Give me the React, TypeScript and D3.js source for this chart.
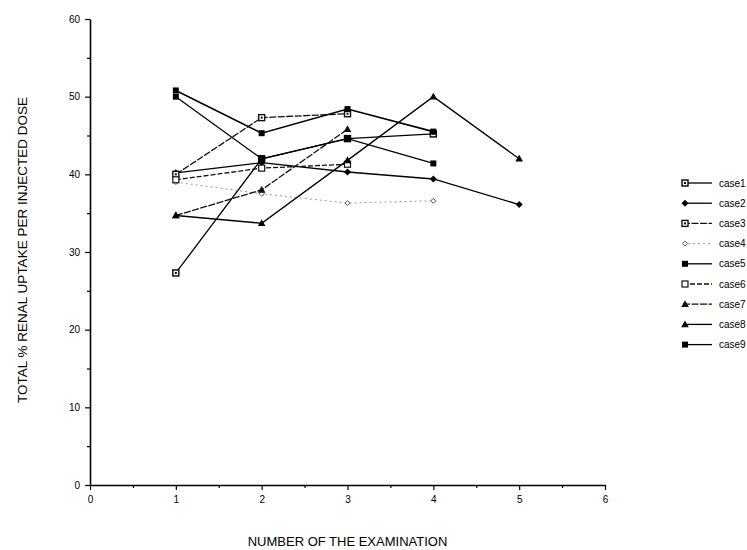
import React, { useEffect, useRef } from 'react';
import * as d3 from 'd3';

// examination number 1..5, value = % renal uptake per injected dose
const EXAMS = [1, 2, 3, 4, 5];
const CASES = ['case1', 'case2', 'case3', 'case4', 'case5', 'case6', 'case7', 'case8', 'case9'];
const case1 = [27.3, 42.0, 44.6, 45.2];
const case2 = [40.2, 41.5, 40.3, 39.4, 36.1];
const case3 = [40.0, 47.3, 47.8];
const case4 = [39.0, 37.5, 36.3, 36.6];
const case5 = [50.0, 42.0, 44.6, 41.4];
const case6 = [39.3, 40.8, 41.3];
const case7 = [34.7, 38.0, 45.8];
const case8 = [34.7, 33.7, 41.8, 50.0, 42.0];
const case9 = [50.8, 45.3, 48.4, 45.5];
const SERIES = [case1, case2, case3, case4, case5, case6, case7, case8, case9];

const X_TICKS = [0, 1, 2, 3, 4, 5, 6];
const Y_TICKS = [0, 10, 20, 30, 40, 50, 60];

const W = 747;
const H = 550;
const FONT = 'Liberation Sans, Arial, Helvetica, sans-serif';

// marker kind, line dash, stroke colour
const STYLE = [
  { m: 'sqdot', dash: null, c: '#000' },
  { m: 'diamond', dash: null, c: '#000' },
  { m: 'sqdot', dash: '7,1.5', c: '#111' },
  { m: 'smalldiamond', dash: '2,3', c: '#999' },
  { m: 'square', dash: null, c: '#000' },
  { m: 'opensq', dash: '5,2', c: '#111' },
  { m: 'triangle', dash: '7,1.5', c: '#111' },
  { m: 'triangle', dash: null, c: '#000' },
  { m: 'square', dash: null, c: '#000' },
];

const Marker = ({ kind, cx, cy, color }) => {
  const s = 3;
  switch (kind) {
    case 'square':
      return <rect x={cx - s} y={cy - s} width={2 * s} height={2 * s} fill={color} />;
    case 'opensq':
      return <rect x={cx - s} y={cy - s} width={2 * s} height={2 * s} fill="#fff" stroke={color} strokeWidth={1.2} />;
    case 'sqdot':
      return (
        <g>
          <rect x={cx - s} y={cy - s} width={2 * s} height={2 * s} fill="#fff" stroke={color} strokeWidth={1.4} />
          <rect x={cx - 1} y={cy - 1} width={2} height={2} fill={color} />
        </g>
      );
    case 'diamond':
      return <path d={`M${cx},${cy - 3.5}L${cx + 3.5},${cy}L${cx},${cy + 3.5}L${cx - 3.5},${cy}Z`} fill={color} />;
    case 'smalldiamond':
      return <path d={`M${cx},${cy - 2.5}L${cx + 2.5},${cy}L${cx},${cy + 2.5}L${cx - 2.5},${cy}Z`} fill="#fff" stroke="#555" strokeWidth={1} />;
    case 'triangle':
      return <path d={`M${cx},${cy - 4}L${cx + 3.8},${cy + 2.8}L${cx - 3.8},${cy + 2.8}Z`} fill={color} />;
    default:
      return null;
  }
};

export default function App() {
  const xAxisRef = useRef(null);
  const yAxisRef = useRef(null);

  const x = d3.scaleLinear().domain([0, 6]).range([90, 605]);
  const y = d3.scaleLinear().domain([0, 60]).range([485, 19]);

  useEffect(() => {
    const gx = d3.select(xAxisRef.current);
    gx.selectAll('*').remove();
    gx.append('g')
      .call(d3.axisBottom(x).tickValues(X_TICKS.slice(0, -1).map(d => d + 0.5)).tickSize(3).tickSizeOuter(0).tickFormat(() => ''))
      .call(g => g.select('.domain').remove());
    gx.append('g')
      .call(d3.axisBottom(x).tickValues(X_TICKS).tickSize(5).tickSizeOuter(0).tickPadding(6).tickFormat(d3.format('d')))
      .call(g => g.select('.domain').attr('stroke-width', 1.6));

    const gy = d3.select(yAxisRef.current);
    gy.selectAll('*').remove();
    gy.append('g')
      .call(d3.axisLeft(y).tickValues(Y_TICKS.slice(0, -1).map(d => d + 5)).tickSize(3).tickSizeOuter(0).tickFormat(() => ''))
      .call(g => g.select('.domain').remove());
    gy.append('g')
      .call(d3.axisLeft(y).tickValues(Y_TICKS).tickSize(5).tickSizeOuter(0).tickPadding(5).tickFormat(d3.format('d')))
      .call(g => g.select('.domain').attr('stroke-width', 1.6));

    d3.selectAll('.axes text').attr('font-family', FONT).attr('font-size', 10).attr('fill', '#000');
    d3.selectAll('.axes line').attr('stroke', '#000').attr('stroke-width', 1.2);
  }, []);

  const line = d3
    .line()
    .x((d, i) => x(EXAMS[i]))
    .y(d => y(d));

  return (
    <svg width={W} height={H} style={{ position: 'absolute', left: 0, top: 0, background: '#fff' }}>
      <g className="axes">
        <g ref={xAxisRef} transform={`translate(0,${y(0)})`} />
        <g ref={yAxisRef} transform={`translate(${x(0)},0)`} />
      </g>

      {SERIES.map((vals, k) => (
        <path
          key={CASES[k]}
          d={line(vals)}
          fill="none"
          stroke={STYLE[k].c}
          strokeWidth={k === 3 ? 1 : k === 8 ? 1.6 : 1.3}
          strokeDasharray={STYLE[k].dash || undefined}
        />
      ))}
      {SERIES.map((vals, k) =>
        vals.map((v, i) => (
          <Marker key={`${k}-${i}`} kind={STYLE[k].m} cx={x(EXAMS[i])} cy={y(v)} color={STYLE[k].c} />
        ))
      )}

      {/* legend */}
      {CASES.map((name, k) => {
        const ly = 183 + k * 20.2;
        return (
          <g key={name}>
            <line x1={683} x2={712} y1={ly} y2={ly} stroke={STYLE[k].c} strokeWidth={k === 3 ? 1 : 1.3} strokeDasharray={STYLE[k].dash || undefined} />
            <Marker kind={STYLE[k].m} cx={685} cy={ly} color={STYLE[k].c} />
            <text x={719} y={ly + 3.5} fontFamily={FONT} fontSize={10}>
              {name}
            </text>
          </g>
        );
      })}

      <text
        transform={`translate(27,250) rotate(-90)`}
        textAnchor="middle"
        fontFamily={FONT}
        fontSize={13.5}
      >
        TOTAL % RENAL UPTAKE PER INJECTED DOSE
      </text>
      <text x={(x(0) + x(6)) / 2} y={546} textAnchor="middle" fontFamily={FONT} fontSize={13}>
        NUMBER OF THE EXAMINATION
      </text>
    </svg>
  );
}
